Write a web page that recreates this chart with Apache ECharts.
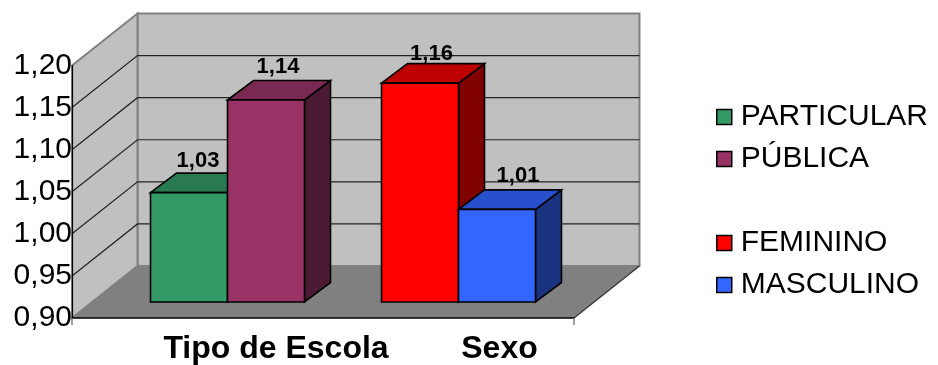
<!DOCTYPE html>
<html>
<head>
<meta charset="utf-8">
<style>html,body{margin:0;padding:0;background:#fff}#chart{width:938px;height:365px}</style>
<script src="https://cdn.jsdelivr.net/npm/echarts@6/dist/echarts.min.js"></script>
</head>
<body>
<div id="chart"></div>
<script>
// Chart data
const categories = ['Tipo de Escola', 'Sexo'];
const schoolTypes = ['PARTICULAR', 'PÚBLICA'];
const schoolValues = [1.03, 1.14];
const sexes = ['FEMININO', 'MASCULINO'];
const sexValues = [1.16, 1.01];
const yTicks = [0.90, 0.95, 1.00, 1.05, 1.10, 1.15, 1.20];

// 3D look: pixel offsets of the box depth and of the bars inside it
const FONT = '"Liberation Sans", Arial, sans-serif';
const boxDepth = [65.5, -52];
const barInset = [20, -16];
const barDepth = [26, -19.5];
const slotsPerBand = 6.52;

const toComma = v => v.toFixed(2).replace('.', ',');

// One entry per bar: slot in the cluster, face colours, value label nudge
const barStyles = [
  { slot: 0, front: '#339966', top: '#297a52', side: '#1a4d33', nudge: [-4, 0] },
  { slot: 1, front: '#993366', top: '#7a2952', side: '#4d1a33', nudge: [-1, -1] },
  { slot: 3, front: '#ff0000', top: '#bf0000', side: '#800000', nudge: [-1.5, 3] },
  { slot: 4, front: '#3366ff', top: '#2950cc', side: '#1a3380', nudge: [8, -1] }
];

const poly = (points, fill) => ({
  type: 'polygon',
  shape: { points },
  style: { fill, stroke: '#000', lineWidth: 1.6, lineJoin: 'miter' }
});

function renderBar(style) {
  return function (params, api) {
    const value = api.value(1);
    const center = api.coord([0, value])[0];
    const slotWidth = api.size([1, 0])[0] / slotsPerBand;
    const x0 = center + (style.slot - 2.5) * slotWidth + barInset[0];
    const x1 = x0 + slotWidth;
    const yTop = api.coord([0, value])[1] + barInset[1];
    const yBase = api.coord([0, yTicks[0]])[1] + barInset[1];
    const [dx, dy] = barDepth;
    return {
      type: 'group',
      children: [
        poly([[x1, yTop], [x1 + dx, yTop + dy], [x1 + dx, yBase + dy], [x1, yBase]], style.side),
        poly([[x0, yTop], [x0 + dx, yTop + dy], [x1 + dx, yTop + dy], [x1, yTop]], style.top),
        poly([[x0, yTop], [x1, yTop], [x1, yBase], [x0, yBase]], style.front),
        {
          type: 'text',
          z2: 10,
          style: {
            x: (x0 + x1) / 2 + dx / 2 + style.nudge[0],
            y: yTop + dy - 12.5 + style.nudge[1],
            text: toComma(value),
            fill: '#000',
            font: 'bold 22px ' + FONT,
            align: 'center',
            verticalAlign: 'middle'
          }
        }
      ]
    };
  };
}

// Back wall, side wall, floor and the gridlines that fold across the walls
function renderBox(params, api) {
  const rect = params.coordSys;
  const [dx, dy] = boxDepth;
  const left = rect.x, right = rect.x + rect.width;
  const top = api.coord([0, yTicks[yTicks.length - 1]])[1];
  const bottom = api.coord([0, yTicks[0]])[1];
  const edge = { stroke: '#808080', lineWidth: 2 };
  const children = [
    { type: 'polygon', shape: { points: [[left + dx, top + dy], [right + dx, top + dy], [right + dx, bottom + dy], [left + dx, bottom + dy]] }, style: { fill: '#c0c0c0', stroke: '#808080', lineWidth: 2 } },
    { type: 'polygon', shape: { points: [[left, top], [left + dx, top + dy], [left + dx, bottom + dy], [left, bottom]] }, style: { fill: '#c0c0c0', stroke: '#808080', lineWidth: 2 } },
    { type: 'polygon', shape: { points: [[left, bottom], [right, bottom], [right + dx, bottom + dy], [left + dx, bottom + dy]] }, style: { fill: '#808080' } },
    { type: 'line', shape: { x1: right, y1: bottom, x2: right + dx, y2: bottom + dy }, style: { stroke: '#333', lineWidth: 1.2 } }
  ];
  yTicks.slice(1, -1).forEach(tick => {
    const y = api.coord([0, tick])[1];
    children.push({
      type: 'polyline',
      shape: { points: [[left, y], [left + dx, y + dy], [right + dx, y + dy]] },
      style: { stroke: '#222', lineWidth: 1.2, fill: null }
    });
  });
  return { type: 'group', children };
}

const names = schoolTypes.concat(sexes);
const values = schoolValues.concat(sexValues);

const barSeries = names.map((name, i) => ({
  type: 'custom',
  name,
  coordinateSystem: 'cartesian2d',
  xAxisIndex: 0,
  yAxisIndex: 0,
  clip: false,
  z: 3,
  itemStyle: { color: barStyles[i].front },
  encode: { x: 0, y: 1 },
  data: [[0, values[i]]],
  renderItem: renderBar(barStyles[i])
}));

const legendBase = {
  left: 711,
  orient: 'vertical',
  icon: 'rect',
  itemWidth: 15,
  itemHeight: 15,
  itemGap: 12,
  selectedMode: false,
  itemStyle: { borderColor: '#000', borderWidth: 1.5 },
  textStyle: { fontFamily: FONT, fontSize: 30, lineHeight: 30, color: '#000', padding: [0, 0, 0, 4] }
};

const chart = echarts.init(document.getElementById('chart'), null, { renderer: 'canvas' });
chart.setOption({
  animation: false,
  backgroundColor: '#fff',
  grid: [
    { left: 72, top: 65.5, width: 502, height: 252.5 },
    { left: 164.25, top: 65.5, width: 447, height: 252.5 }
  ],
  xAxis: [
    {
      type: 'category',
      gridIndex: 0,
      data: [''],
      axisLine: { lineStyle: { color: '#000', width: 1.6 } },
      axisTick: { show: true, length: 7, lineStyle: { color: '#808080', width: 1.5 } },
      axisLabel: { show: false },
      splitLine: { show: false },
      z: 4
    },
    {
      type: 'category',
      gridIndex: 1,
      data: categories,
      axisLine: { show: false },
      axisTick: { show: false },
      axisLabel: { margin: 17, color: '#000', fontFamily: FONT, fontSize: 32, fontWeight: 'bold', interval: 0 },
      splitLine: { show: false }
    }
  ],
  yAxis: [
    {
      type: 'value',
      gridIndex: 0,
      min: 0.9,
      max: 1.2,
      interval: 0.05,
      axisLine: { show: true, lineStyle: { color: '#000', width: 1.2 } },
      axisTick: { show: false },
      splitLine: { show: false },
      axisLabel: {
        margin: 0,
        color: '#000',
        fontFamily: FONT,
        fontSize: 30,
        padding: [6, 0, 0, 0],
        formatter: toComma
      },
      z: 4
    },
    { type: 'value', gridIndex: 1, min: 0.9, max: 1.2, show: false }
  ],
  legend: [
    Object.assign({}, legendBase, { top: 97, data: schoolTypes }),
    Object.assign({}, legendBase, { top: 223, data: sexes })
  ],
  series: [
    {
      type: 'custom',
      coordinateSystem: 'cartesian2d',
      xAxisIndex: 0,
      yAxisIndex: 0,
      clip: false,
      silent: true,
      z: 1,
      encode: { x: 0, y: 1 },
      data: [[0, yTicks[0]]],
      renderItem: renderBox
    }
  ].concat(barSeries)
});
</script>
</body>
</html>
